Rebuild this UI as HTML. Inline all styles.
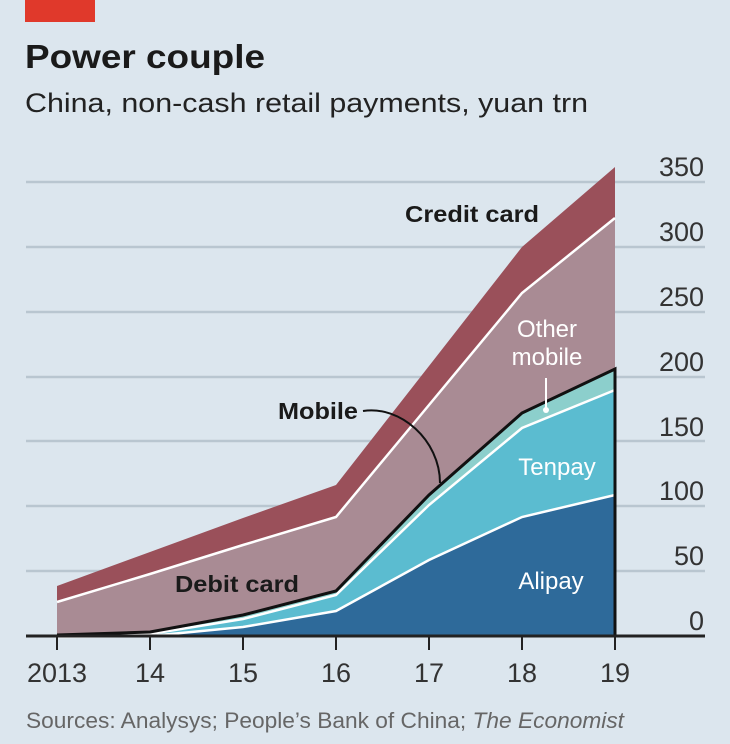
<!DOCTYPE html>
<html><head><meta charset="utf-8"><style>
html,body{margin:0;padding:0;background:#dce6ee;}
svg{display:block;font-family:"Liberation Sans",sans-serif;}
</style></head><body>
<svg width="730" height="744" viewBox="0 0 730 744">
<rect width="730" height="744" fill="#dce6ee"/>
<rect x="25" y="0" width="70" height="22" fill="#e0392b"/>
<text x="25" y="68" font-size="33" font-weight="bold" fill="#1a1a1a" textLength="240" lengthAdjust="spacingAndGlyphs">Power couple</text>
<text x="25" y="112" font-size="27" fill="#222" textLength="563" lengthAdjust="spacingAndGlyphs">China, non-cash retail payments, yuan trn</text>
<g stroke="#b9c6d0" stroke-width="2.5">
<line x1="26" y1="182" x2="705" y2="182"/>
<line x1="26" y1="247" x2="705" y2="247"/>
<line x1="26" y1="312" x2="705" y2="312"/>
<line x1="26" y1="377" x2="705" y2="377"/>
<line x1="26" y1="441" x2="705" y2="441"/>
<line x1="26" y1="506" x2="705" y2="506"/>
<line x1="26" y1="571" x2="705" y2="571"/>
</g>
<g font-size="27" fill="#333" text-anchor="end">
<text x="704" y="176">350</text><text x="704" y="241">300</text><text x="704" y="306">250</text>
<text x="704" y="371">200</text><text x="704" y="436">150</text><text x="704" y="500">100</text>
<text x="704" y="565">50</text><text x="704" y="630">0</text>
</g>
<!-- credit -->
<polygon fill="#9a505a" points="57,586 150,552 243,518 336,485 429,366 522,247 615,167 615,637 57,637"/>
<!-- debit -->
<polygon fill="#a98b94" points="57,602 150,574 243,545 336,517 429,405 522,293 615,218 615,637 57,637"/>
<polyline fill="none" stroke="#fff" stroke-width="2.5" points="57,602 150,574 243,545 336,517 429,405 522,293 615,218"/>
<!-- other mobile -->
<polygon fill="#8ccfcc" points="57,635 150,632 243,615 336,591 429,495 522,413 615,369 615,637 57,637"/>
<!-- tenpay -->
<polygon fill="#5bbcd0" points="57,636 150,634 243,619 336,595 429,505 522,428 615,390 615,637 57,637"/>
<polyline fill="none" stroke="#fff" stroke-width="2.5" points="57,636 150,634 243,619 336,595 429,505 522,428 615,390"/>
<!-- alipay -->
<polygon fill="#2e6a9a" points="57,637 150,636 243,627 336,611 429,560 522,517 615,495 615,637 57,637"/>
<polyline fill="none" stroke="#fff" stroke-width="2.5" points="57,637 150,636 243,627 336,611 429,560 522,517 615,495"/>
<polyline fill="none" stroke="#111" stroke-width="3" points="57,635 150,632 243,615 336,591 429,495 522,413 615,369 615,637"/>
<line x1="26" y1="636" x2="705" y2="636" stroke="#222" stroke-width="3"/>
<g stroke="#222" stroke-width="2">
<line x1="57" y1="636" x2="57" y2="650"/><line x1="150" y1="636" x2="150" y2="650"/>
<line x1="243" y1="636" x2="243" y2="650"/><line x1="336" y1="636" x2="336" y2="650"/>
<line x1="429" y1="636" x2="429" y2="650"/><line x1="522" y1="636" x2="522" y2="650"/>
<line x1="615" y1="636" x2="615" y2="650"/>
</g>
<g font-size="27" fill="#333" text-anchor="middle">
<text x="57" y="682">2013</text><text x="150" y="682">14</text><text x="243" y="682">15</text>
<text x="336" y="682">16</text><text x="429" y="682">17</text><text x="522" y="682">18</text><text x="615" y="682">19</text>
</g>
<text x="26" y="728" font-size="22" fill="#666" textLength="598" lengthAdjust="spacingAndGlyphs">Sources: Analysys; People’s Bank of China; <tspan font-style="italic">The Economist</tspan></text>
<g font-weight="bold" font-size="23" fill="#1a1a1a">
<text x="405" y="222" textLength="134" lengthAdjust="spacingAndGlyphs">Credit card</text>
<text x="278" y="419" textLength="80" lengthAdjust="spacingAndGlyphs">Mobile</text>
<text x="175" y="592" textLength="124" lengthAdjust="spacingAndGlyphs">Debit card</text>
</g>
<path d="M363,411 C400,405 440,440 440,483" fill="none" stroke="#111" stroke-width="2"/>
<g font-size="24" fill="#fff" text-anchor="middle">
<text x="547" y="337">Other</text>
<text x="547" y="365">mobile</text>
<text x="557" y="475">Tenpay</text>
<text x="551" y="589">Alipay</text>
</g>
<line x1="546" y1="378" x2="546" y2="408" stroke="#fff" stroke-width="2"/>
<circle cx="546" cy="410" r="3" fill="#fff"/>
</svg>
</body></html>
